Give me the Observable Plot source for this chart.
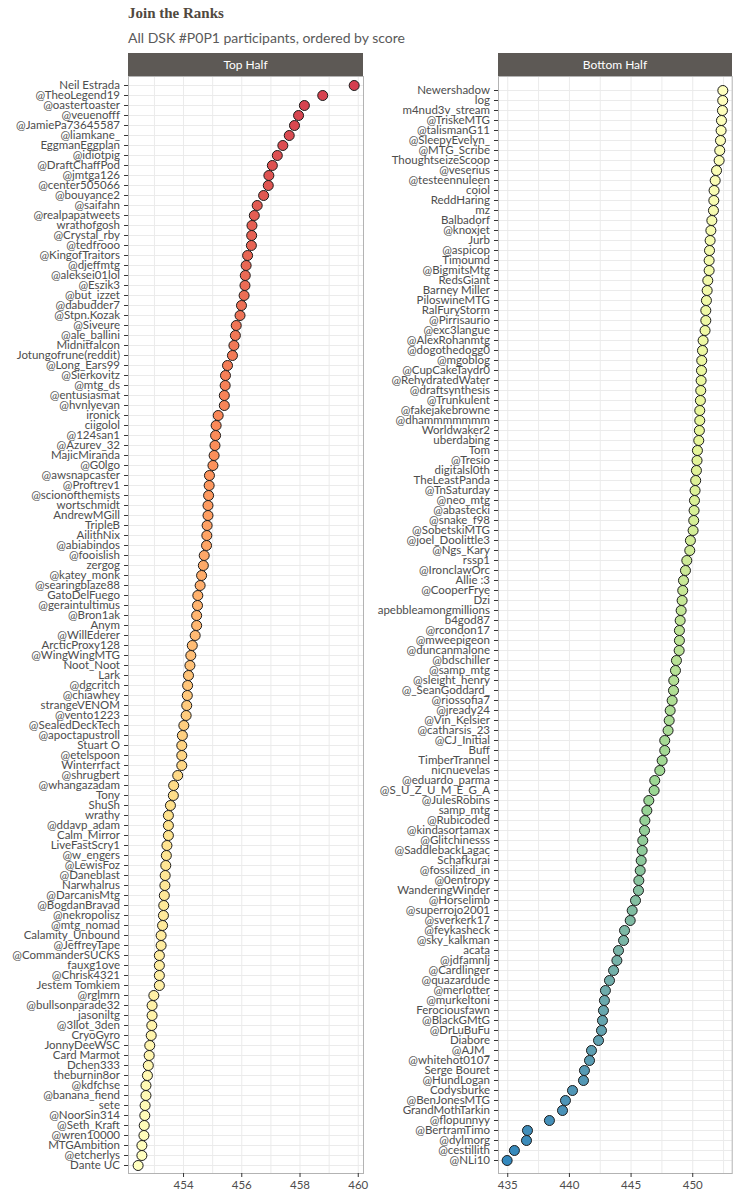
<!DOCTYPE html>
<html><head><meta charset="utf-8">
<script src="https://cdn.jsdelivr.net/npm/d3@7"></script>
<script src="https://cdn.jsdelivr.net/npm/@observablehq/plot@0.6"></script>
<style>
body{margin:0;background:#fff;font-family:Lato,sans-serif;}
#wrap{position:relative;width:741px;height:1200px;overflow:hidden;}
#title{position:absolute;left:128px;top:6px;font-family:"Liberation Serif",serif;font-weight:bold;font-size:15px;line-height:1;color:#514840;}
#subtitle{position:absolute;left:128px;top:30.5px;font-family:Lato,sans-serif;font-size:14px;line-height:1;color:#5a5a5a;}
.strip{position:absolute;top:53px;height:23.5px;background:#5d5955;color:#fff;font-family:Lato,sans-serif;font-size:12px;display:flex;align-items:center;justify-content:center;}
.panel{position:absolute;top:76px;}
</style></head><body>
<div id="wrap">
<div id="title">Join the Ranks</div>
<div id="subtitle">All DSK #P0P1 participants, ordered by score</div>
<div class="strip" style="left:128px;width:235px">Top Half</div>
<div class="strip" style="left:498px;width:234px">Bottom Half</div>
<div id="left" class="panel" style="left:0px"></div>
<div id="right" class="panel" style="left:370px"></div>
</div>
<script>
const facetLabels = ["Top Half", "Bottom Half"];

const topNames = ["Neil Estrada","@TheoLegend19","@oastertoaster","@veuenofff","@JamiePa73645587","@liamkane_","EggmanEggplan","@idiotpig","@DraftChaffPod","@jmtga126","@center505066","@bouyance2","@saifahn","@realpapatweets","wrathofgosh","@Crystal_rby","@tedfrooo","@KingofTraitors","@djeffmtg","@aleksei01lol","@Eszik3","@but_izzet","@dabudder7","@Stpn.Kozak","@Siveure","@ale_ballini","Midnitfalcon","Jotungofrune(reddit)","@Long_Ears99","@Sierkovitz","@mtg_ds","@entusiasmat","@hvnlyevan","ironick","ciigolol","@124san1","@Azurev_32","MajicMiranda","@G0lgo","@awsnapcaster","@Proftrev1","@scionofthemists","wortschmidt","AndrewMGill","TripleB","AilithNix","@abiabindos","@fooislish","zergog","@katey_monk","@searingblaze88","GatoDelFuego","@geraintultimus","@Bron1ak","Anym","@WillEderer","ArcticProxy128","@WingWingMTG","Noot_Noot","Lark","@dgcritch","@chiawhey","strangeVENOM","@vento1223","@SealedDeckTech","@apoctapustroll","Stuart O","@etelspoon","Winterrfact","@shrugbert","@whangazadam","Tony","ShuSh","wrathy","@ddavp_adam","Calm_Mirror","LiveFastScry1","@w_engers","@LewisFoz","@Daneblast","Narwhalrus","@DarcanisMtg","@BogdanBravad","@nekropolisz","@mtg_nomad","Calamity_Unbound","@JeffreyTape","@CommanderSUCKS","fauxg1ove","@Chrisk4321","Jestem Tomkiem","@rglmrn","@bullsonparade32","jasoniltg","@3llot_3den","CryoGyro","JonnyDeeWSC","Card Marmot","Dchen333","theburnin8or","@kdfchse","@banana_fiend","sete","@NoorSin314","@Seth_Kraft","@wren10000","MTGAmbition","@etcherlys","Dante UC"];

const topScores = [459.86,458.78,458.15,457.95,457.81,457.63,457.41,457.22,457.05,456.93,456.91,456.75,456.53,456.43,456.35,456.34,456.33,456.20,456.15,456.12,456.11,456.08,455.99,455.94,455.81,455.78,455.73,455.68,455.51,455.44,455.43,455.40,455.40,455.19,455.12,455.10,455.08,455.05,455.01,454.89,454.88,454.86,454.84,454.84,454.81,454.80,454.79,454.71,454.68,454.62,454.57,454.49,454.48,454.45,454.45,454.40,454.30,454.25,454.22,454.17,454.14,454.13,454.11,454.09,454.01,453.96,453.94,453.94,453.94,453.80,453.66,453.65,453.55,453.48,453.48,453.48,453.43,453.41,453.39,453.37,453.36,453.34,453.32,453.31,453.28,453.23,453.23,453.17,453.17,453.17,453.17,452.98,452.92,452.92,452.91,452.89,452.84,452.82,452.79,452.76,452.71,452.71,452.68,452.67,452.65,452.64,452.57,452.57,452.44];

const bottomNames = ["Newershadow","log","m4nud3v_stream","@TriskeMTG","@talismanG11","@SleepyEvelyn_","@MTG_Scribe","ThoughtseizeScoop","@veserius","@testeennuleen","coiol","ReddHaring","mz","Balbadorf","@knoxjet","Jurb","@aspicop","Timoumd","@BigmitsMtg","RedsGiant","Barney Miller","PiloswineMTG","RalFuryStorm","@Pirrisaurio","@exc3langue","@AlexRohanmtg","@dogothedogg0","@mgoblog","@CupCakeTaydr0","@RehydratedWater","@draftsynthesis","@Trunkulent","@fakejakebrowne","@dhammmmmmm","Worldwaker2","uberdabing","Tom","@Tresio","digitalsl0th","TheLeastPanda","@TnSaturday","@neo_mtg","@abastecki","@snake_f98","@SobetskiMTG","@joel_Doolittle3","@Ngs_Kary","rssp1","@IronclawOrc","Allie :3","@CooperFrye","Dzi","apebbleamongmillions","b4god87","@rcondon17","@mweepigeon","@duncanmalone","@bdschiller","@samp_mtg","@sleight_henry","@_SeanGoddard_","@riossofia7","@jready24","@Vin_Kelsier","@catharsis_23","@CJ_Initial","Buff","TimberTrannel","nicnuevelas","@eduardo_parma","@S_U_Z_U_M_E_G_A","@JulesRobins","samp_mtg","@Rubicoded","@kindasortamax","@Glitchinesss","@SaddlebackLagac","Schafkurai","@fossilized_in","@0entropy","WanderingWinder","@Horselimb","@superrojo2001","@sverkerk17","@feykasheck","@sky_kalkman","acata","@jdfamnlj","@Cardlinger","@quazardude","@merlotter","@murkeltoni","Ferociousfawn","@BlackGMtG","@DrLuBuFu","Diabore","@AJM_","@whitehot0107","Serge Bouret","@HundLogan","Codysburke","@BenJonesMTG","GrandMothTarkin","@flopunnyy","@BertramTimo","@dylmorg","@cestillith","@NLi10"];

const bottomScores = [452.44,452.43,452.41,452.33,452.30,452.25,452.19,452.14,451.93,451.82,451.73,451.71,451.68,451.55,451.47,451.41,451.36,451.33,451.33,451.22,451.17,451.11,451.06,451.06,451.00,450.84,450.79,450.73,450.71,450.68,450.65,450.62,450.57,450.57,450.54,450.49,450.38,450.35,450.30,450.24,450.19,450.14,450.11,450.08,450.03,449.81,449.76,449.52,449.41,449.25,449.19,449.14,449.06,448.98,448.92,448.92,448.90,448.68,448.60,448.46,448.44,448.33,448.17,448.09,448.00,447.73,447.73,447.52,447.33,446.92,446.87,446.44,446.28,446.12,446.09,445.95,445.90,445.82,445.74,445.63,445.60,445.36,445.09,444.93,444.47,444.39,443.98,443.85,443.58,443.25,442.92,442.84,442.76,442.68,442.60,442.36,441.79,441.63,441.22,441.14,440.25,439.68,439.44,438.38,436.60,436.52,435.54,434.95];

const leftTicks = [454, 456, 458, 460];
const leftGrid = [453, 454, 455, 456, 457, 458, 459, 460];
const rightTicks = [435, 440, 445, 450];
const rightGrid = [435, 437.5, 440, 442.5, 445, 447.5, 450, 452.5];
const spectral = ["#d53e4f","#fc8d59","#fee08b","#ffffbf","#e6f598","#99d594","#3288bd"];

const N = topNames.length + bottomNames.length;
const topData = topNames.map((name, i) => ({name, score: topScores[i], rank: i + 1}));
const bottomData = bottomNames.map((name, i) => ({name, score: bottomScores[i], rank: topNames.length + i + 1}));
const colorDomain = spectral.map((_, i) => 1 + i * (N - 1) / (spectral.length - 1));

function panel(data, domain, ticks, grid, width, marginRight) {
  return Plot.plot({
    width, height: 1124,
    marginLeft: 128, marginRight, marginTop: 0, marginBottom: 27,
    style: {fontFamily: "Lato, sans-serif", fontSize: "11.5px", color: "#4d4d4d", background: "transparent", overflow: "visible"},
    x: {domain, label: null},
    y: {type: "point", domain: data.map(d => d.name), padding: 0.6, label: null},
    color: {type: "linear", domain: colorDomain, range: spectral, interpolate: "lab"},
    marks: [
      Plot.gridY({stroke: "#ebebeb", strokeOpacity: 1, strokeWidth: 1}),
      Plot.gridX(grid, {stroke: "#ebebeb", strokeOpacity: 1, strokeWidth: 1}),
      Plot.frame({stroke: "#b3b3b3"}),
      Plot.axisX({ticks, tickSize: 4, tickPadding: 3, stroke: "#333", fill: "#4d4d4d", label: null}),
      Plot.axisY({tickSize: 4, tickPadding: 4.5, stroke: "#333", fill: "#4d4d4d", label: null}),
      Plot.dot(data, {x: "score", y: "name", fill: "rank", r: 5, stroke: "#1a1a1a", strokeWidth: 1})
    ]
  });
}

document.getElementById("left").appendChild(panel(topData, [452.11, 460.18], leftTicks, leftGrid, 370, 7));
document.getElementById("right").appendChild(panel(bottomData, [434.25, 453.2], rightTicks, rightGrid, 371, 9.3));
</script>
</body></html>
